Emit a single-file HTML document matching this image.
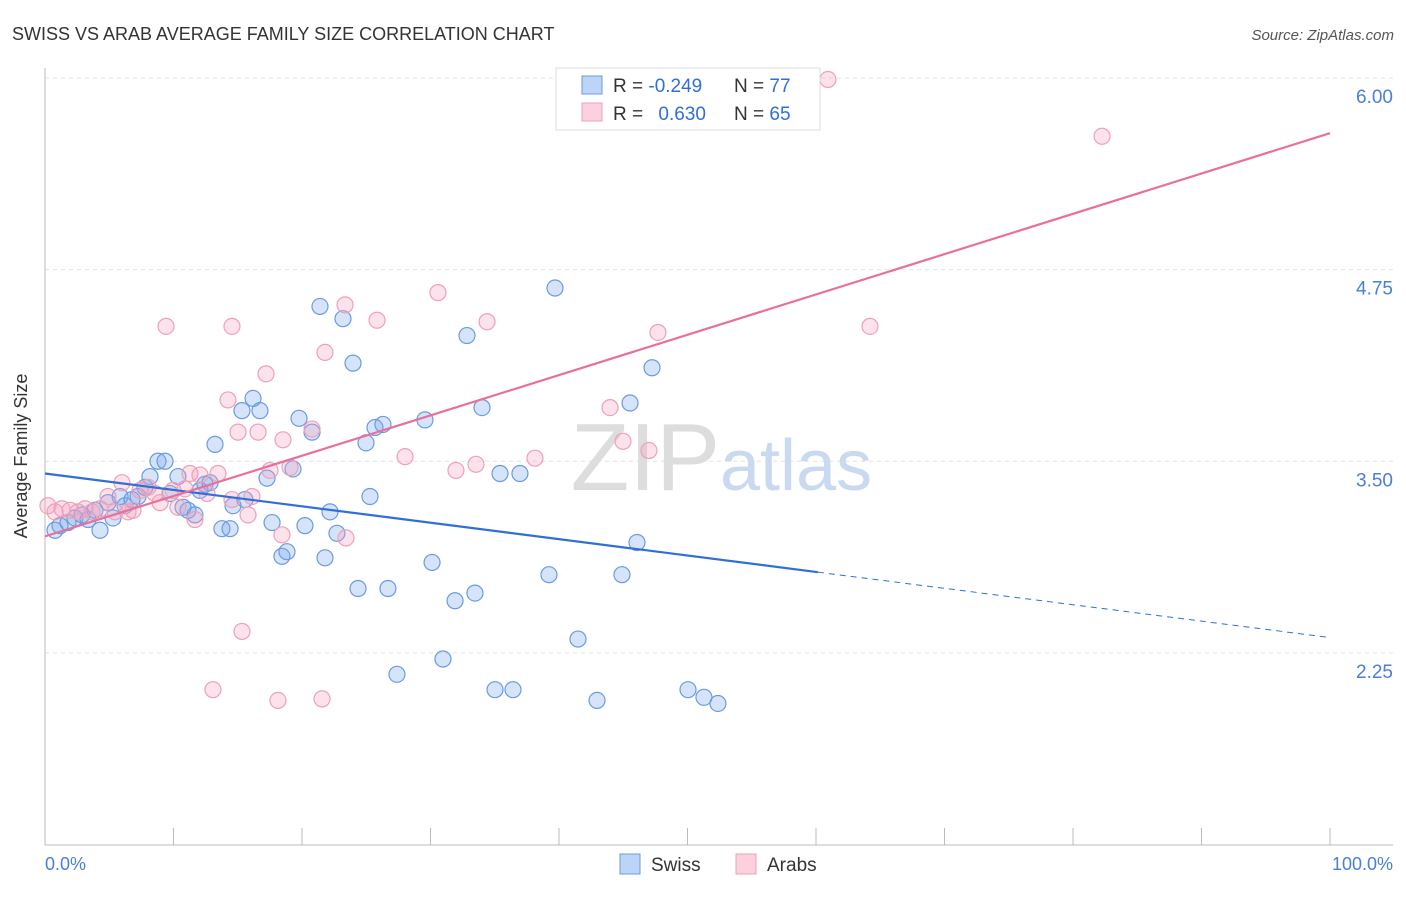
<!DOCTYPE html>
<html><head><meta charset="utf-8"><style>
body{margin:0;background:#fff;font-family:"Liberation Sans",sans-serif}
svg text{font-family:"Liberation Sans",sans-serif}
</style></head><body>
<svg width="1406" height="892">
<text x="12" y="40" font-size="18" fill="#333">SWISS VS ARAB AVERAGE FAMILY SIZE CORRELATION CHART</text>
<text x="1394" y="40" font-size="15" fill="#555" font-style="italic" text-anchor="end">Source: ZipAtlas.com</text>
<g id="grid"></g>
<text x="720" y="490" font-size="96" fill="#ddd" text-anchor="end" font-family="Liberation Serif">ZIP</text>
<text x="720" y="490" font-size="72" fill="#c9d9f0">atlas</text>
<g id="marks"></g>
<text x="27" y="456" font-size="18" fill="#333" transform="rotate(-90 27 456)" text-anchor="middle">Average Family Size</text>
<text x="45" y="870" font-size="18" fill="#4a7fd6">0.0%</text>
<text x="1393" y="870" font-size="18" fill="#4a7fd6" text-anchor="end">100.0%</text>
<g>
<rect x="556" y="68" width="264" height="62" fill="#fff" stroke="#ddd"/>
<rect x="582" y="76" width="20" height="18" fill="#bcd4f6" stroke="#6a9be0"/>
<rect x="582" y="103" width="20" height="18" fill="#fcd0dc" stroke="#eea0b8"/>
<text x="613" y="92" font-size="19" fill="#333">R = <tspan fill="#2f6fd6">-0.249</tspan></text>
<text x="734" y="92" font-size="19" fill="#333">N = <tspan fill="#2f6fd6">77</tspan></text>
<text x="613" y="120" font-size="19" fill="#333">R = <tspan fill="#2f6fd6" dx="10">0.630</tspan></text>
<text x="734" y="120" font-size="19" fill="#333">N = <tspan fill="#2f6fd6">65</tspan></text>
</g>
<g>
<rect x="620" y="854" width="20" height="20" fill="#bcd4f6" stroke="#6a9be0"/>
<text x="651" y="871" font-size="19" fill="#333">Swiss</text>
<rect x="736" y="854" width="20" height="20" fill="#fcd0dc" stroke="#eea0b8"/>
<text x="767" y="871" font-size="19" fill="#333">Arabs</text>
</g>
</svg>
<script>
const yTicks=[6.00,4.75,3.50,2.25];
const xTicks=[0,10,20,30,40,50,60,70,80,90,100];
const swissX=[.78,1.17,1.79,2.33,2.88,3.35,3.89,4.28,4.90,5.29,5.84,6.23,6.77,7.24,7.78,8.17,8.79,9.34,9.73,10.35,10.74,11.13,11.67,12.06,12.45,12.84,13.23,13.77,14.40,14.63,15.33,15.56,16.19,16.73,17.28,17.67,18.44,18.83,19.30,19.77,20.23,20.78,21.40,21.79,22.18,22.72,23.19,23.97,24.36,24.98,25.29,25.68,26.30,26.69,27.39,29.57,30.12,30.97,31.91,32.84,33.46,34.01,35.02,35.41,36.42,36.96,39.22,39.69,41.48,42.96,44.90,45.53,46.07,47.24,50.04,51.28,52.37];
const swissY=[3.05,3.08,3.10,3.13,3.15,3.12,3.18,3.05,3.23,3.13,3.27,3.21,3.25,3.27,3.33,3.40,3.50,3.50,3.29,3.40,3.20,3.18,3.15,3.31,3.35,3.36,3.61,3.06,3.06,3.21,3.83,3.25,3.91,3.83,3.39,3.10,2.88,2.91,3.45,3.78,3.08,3.69,4.51,2.87,3.17,3.03,4.43,4.14,2.67,3.62,3.27,3.72,3.74,2.67,2.11,3.77,2.84,2.21,2.59,4.32,2.64,3.85,2.01,3.42,2.01,3.42,2.76,4.63,2.34,1.94,2.76,3.88,2.97,4.11,2.01,1.96,1.92];
const arabX=[.23,.78,1.32,1.95,2.57,3.11,3.66,4.28,4.90,5.45,5.99,6.46,6.85,7.39,8.02,8.56,8.95,9.42,9.96,10.35,10.89,11.28,11.67,12.06,12.61,13.07,13.46,14.24,14.55,14.55,15.02,15.33,15.80,16.11,16.58,17.20,17.51,18.13,18.44,18.52,19.07,20.78,21.56,21.79,23.35,23.42,25.84,28.02,30.58,31.98,33.54,34.40,38.13,43.97,44.98,47.00,47.70,60.93,64.20,82.26];
const arabY=[3.21,3.17,3.19,3.18,3.17,3.19,3.17,3.19,3.27,3.17,3.36,3.17,3.18,3.31,3.33,3.29,3.23,4.38,3.31,3.20,3.32,3.42,3.12,3.41,3.29,2.01,3.42,3.90,4.38,3.25,3.69,2.39,3.15,3.27,3.69,4.07,3.44,1.94,3.02,3.64,3.46,3.71,1.95,4.21,4.52,3.00,4.42,3.53,4.60,3.44,3.48,4.41,3.52,3.85,3.63,3.57,4.34,5.99,4.38,5.62];
const swissTrend=[3.42,-0.0107]; // intercept, slope per %
const arabTrend=[3.01,0.0263];
const sx=v=>45+v*12.85, sy=v=>78+(6-v)*153.3;
const NS="http://www.w3.org/2000/svg";
function mk(t,a,p){const e=document.createElementNS(NS,t);for(const k in a)e.setAttribute(k,a[k]);p.appendChild(e);return e;}
const g=document.getElementById('grid'), m=document.getElementById('marks');
yTicks.forEach(v=>{
 const l=mk('line',{x1:45,x2:1393,y1:sy(v),y2:sy(v),stroke:'#e4e4e4','stroke-dasharray':'4 4'},g);
 
 
 const t=mk('text',{x:1393,y:sy(v)+25,'font-size':19,fill:'#4a7fd6','text-anchor':'end'},g);
 t.textContent=v.toFixed(2);
 
 
});
mk('line',{x1:45,x2:45,y1:68,y2:845,stroke:'#bbb'},g);
mk('line',{x1:45,x2:1393,y1:845,y2:845,stroke:'#bbb'},g);
xTicks.forEach(v=>{const l=mk('line',{x1:sx(v),x2:sx(v),y1:828,y2:845,stroke:'#bbb'},g);
 
 });
function pts(X,Y,fill,stroke,name){X.forEach((x,i)=>{
 const c=mk('circle',{cx:sx(x),cy:sy(Y[i]),r:8,fill:fill,stroke:stroke,'stroke-width':1.2},m);
 
 });}
pts(swissX,swissY,'rgba(120,165,235,0.3)','#6a9be0','swiss-point');
pts(arabX,arabY,'rgba(245,160,190,0.3)','#eea0b8','arab-point');
const ty=(t,x)=>t[0]+t[1]*x;
let l=mk('line',{x1:sx(0),y1:sy(ty(swissTrend,0)),x2:sx(60.15),y2:sy(ty(swissTrend,60.15)),stroke:'#2f6fd6','stroke-width':2.2},m);


l=mk('line',{x1:sx(60.15),y1:sy(ty(swissTrend,60.15)),x2:sx(100),y2:sy(ty(swissTrend,100)),stroke:'#2f6fd6','stroke-width':1,'stroke-dasharray':'6 5'},m);


l=mk('line',{x1:sx(0),y1:sy(ty(arabTrend,0)),x2:sx(100),y2:sy(ty(arabTrend,100)),stroke:'#e8709a','stroke-width':2.2},m);


</script>
</body></html>
